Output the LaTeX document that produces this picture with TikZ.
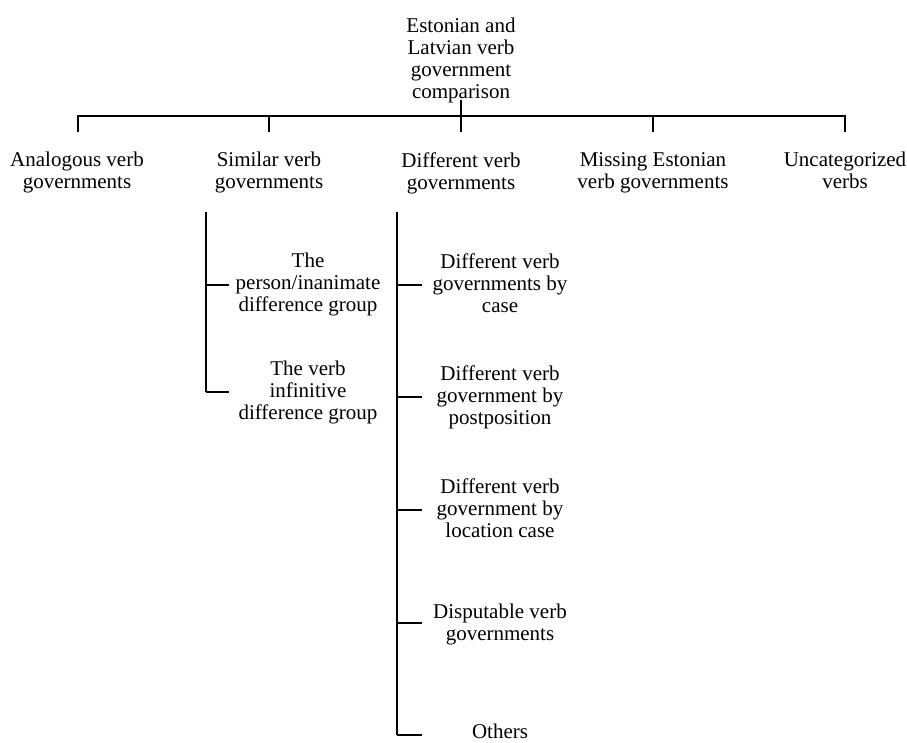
\documentclass[tikz,border=0pt]{standalone}
\usepackage{fontspec}
\setmainfont{Liberation Serif}
\begin{document}
\begin{tikzpicture}[x=1pt,y=-1pt,
  lbl/.style={align=center, inner sep=0pt, font=\fontsize{21}{22}\selectfont,
    execute at begin node=\strut, execute at end node=\strut},
  mainline/.style={line width=1.8pt},
  stemline/.style={line width=2.6pt},
  branchline/.style={line width=1.3pt}]
\useasboundingbox (0,0) rectangle (907,742);
% root
\node[lbl] (root) at (461,61.5) {Estonian and\\Latvian verb\\government\\comparison};
% top-level children
\node[lbl] (c1) at (77,174) {Analogous verb\\governments};
\node[lbl] (c2) at (269,174) {Similar verb\\governments};
\node[lbl] (c3) at (461,174) {Different verb\\governments};
\node[lbl] (c4) at (653,174) {Missing Estonian\\verb governments};
\node[lbl] (c5) at (845,174) {Uncategorized\\verbs};
% coordinates of the top bracket
\coordinate (rs) at (461,100);
\coordinate (bar) at (461,116);
\coordinate (t1) at (78,132);
\coordinate (t2) at (269,132);
\coordinate (t3) at (461,132);
\coordinate (t4) at (653,132);
\coordinate (t5) at (845,132);
\draw[stemline] (rs) -- (bar);
\draw[mainline] (t1) -- (t1 |- bar) -- (t5 |- bar) -- (t5);
\draw[mainline] (bar) -- (t3);
\draw[mainline] (t2) -- (t2 |- bar);
\draw[mainline] (t4) -- (t4 |- bar);
% similar subgroups
\node[lbl] (s1) at (308,286) {The\\person/inanimate\\difference group};
\node[lbl] (s2) at (308,394) {The verb\\infinitive\\difference group};
\coordinate (st) at (206,212);
\coordinate (sb1) at (229,285);
\coordinate (sb2) at (229,392);
\draw[mainline] (st) -- (st |- sb2);
\draw[branchline] (st |- sb1) -- (sb1);
\draw[branchline] (st |- sb2) -- (sb2);
% different subgroups
\node[lbl] (d1) at (500,286) {Different verb\\governments by\\case};
\node[lbl] (d2) at (500,398) {Different verb\\government by\\postposition};
\node[lbl] (d3) at (500,511) {Different verb\\government by\\location case};
\node[lbl] (d4) at (500,625.5) {Disputable verb\\governments};
\node[lbl] (d5) at (500,734) {Others};
\coordinate (dt) at (397,212);
\coordinate (db1) at (422,285);
\coordinate (db2) at (422,397);
\coordinate (db3) at (422,510);
\coordinate (db4) at (422,623);
\coordinate (db5) at (422,735);
\draw[mainline] (dt) -- (dt |- db5);
\draw[branchline] (dt |- db1) -- (db1);
\draw[branchline] (dt |- db2) -- (db2);
\draw[branchline] (dt |- db3) -- (db3);
\draw[branchline] (dt |- db4) -- (db4);
\draw[branchline] (dt |- db5) -- (db5);
\end{tikzpicture}
\end{document}
